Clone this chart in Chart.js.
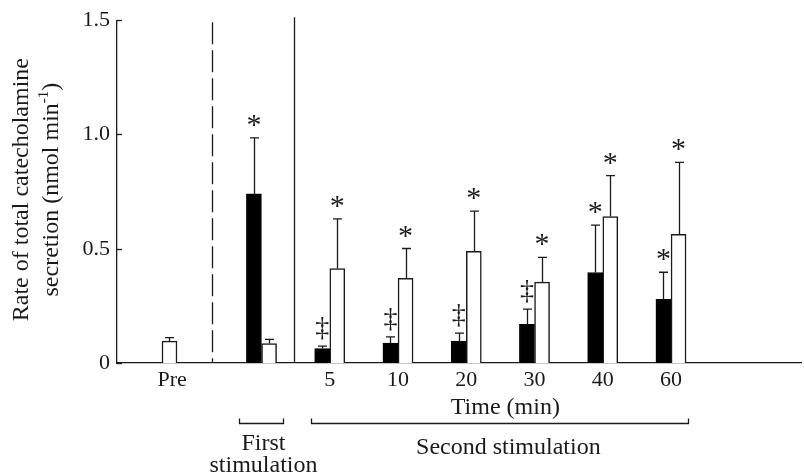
<!DOCTYPE html>
<html>
<head>
<meta charset="utf-8">
<script src="https://cdn.jsdelivr.net/npm/chart.js@4.4.1/dist/chart.umd.min.js"></script>
<style>
  body { margin: 0; background: #fff; }
  #wrap { width: 804px; height: 475px; }
</style>
</head>
<body>
<div id="wrap"><canvas id="canvas" width="804" height="475"></canvas></div>
<script>
// values (nmol min-1)
const groups = ['Pre', 'First', '5', '10', '20', '30', '40', '60'];
const tickLabels = ['Pre', '5', '10', '20', '30', '40', '60'];
const blackMean = [null, 0.74, 0.063, 0.087, 0.096, 0.169, 0.396, 0.279];
const blackErr = [null, 0.245, 0.011, 0.027, 0.035, 0.067, 0.207, 0.118];
const whiteMean = [0.096, 0.085, 0.413, 0.371, 0.489, 0.354, 0.641, 0.563];
const whiteErr = [0.015, 0.018, 0.218, 0.130, 0.176, 0.108, 0.179, 0.315];
const blackMark = ['', '*', '‡', '‡', '‡', '‡', '*', '*'];
const whiteMark = ['', '', '*', '*', '*', '*', '*', '*'];
const yTicks = [0, 0.5, 1.0, 1.5];

// layout on the x axis (group units)
const groupX = [-0.348, 1, 2, 3, 4, 5, 6, 7];
const tickX = [-0.31, 2, 3, 4, 5, 6, 7];
const half = 0.111;
const dashedX = 0.27;
const solidX = 1.48;

const serif = "'Liberation Serif', 'Times New Roman', Times, serif";
const ink = '#1a1a1a';

const blackData = [];
const whiteData = [];
groups.forEach((g, i) => {
  const off = i === 0 ? 0 : half;
  if (blackMean[i] !== null) blackData.push({ x: groupX[i] - off, y: blackMean[i], e: blackErr[i], m: blackMark[i] });
  whiteData.push({ x: groupX[i] + off, y: whiteMean[i], e: whiteErr[i], m: whiteMark[i] });
});

function centerText(ctx, txt, x, cy) {
  const m = ctx.measureText(txt);
  ctx.fillText(txt, x, cy + (m.actualBoundingBoxAscent - m.actualBoundingBoxDescent) / 2);
}

const extras = {
  id: 'extras',
  beforeDatasetsDraw(chart) {
    const ctx = chart.ctx, xs = chart.scales.x, a = chart.chartArea;
    ctx.save();
    ctx.strokeStyle = ink;
    ctx.lineWidth = 1.3;
    // dashed divider
    ctx.setLineDash([22, 6]);
    ctx.beginPath();
    const dx = Math.round(xs.getPixelForValue(dashedX)) + 0.5;
    ctx.moveTo(dx, a.top + 2);
    ctx.lineTo(dx, a.bottom);
    ctx.stroke();
    ctx.setLineDash([]);
    // solid divider
    const sx = Math.round(xs.getPixelForValue(solidX)) + 0.5;
    ctx.beginPath();
    ctx.moveTo(sx, a.top - 3);
    ctx.lineTo(sx, a.bottom);
    ctx.stroke();
    ctx.restore();
  },
  afterDatasetsDraw(chart) {
    const ctx = chart.ctx, ys = chart.scales.y;
    ctx.save();
    ctx.strokeStyle = ink;
    ctx.fillStyle = ink;
    ctx.lineWidth = 1.3;
    chart.data.datasets.forEach((ds, d) => {
      const meta = chart.getDatasetMeta(d);
      ds.data.forEach((p, i) => {
        const el = meta.data[i];
        const x = Math.round(el.x) + 0.5;
        const top = ys.getPixelForValue(p.y + p.e);
        ctx.beginPath();
        ctx.moveTo(x, el.y);
        ctx.lineTo(x, top);
        ctx.moveTo(x - 4.5, top);
        ctx.lineTo(x + 4.5, top);
        ctx.stroke();
        if (p.m) {
          ctx.textAlign = 'center';
          ctx.textBaseline = 'alphabetic';
          if (p.m === '*') {
            ctx.font = '30px ' + serif;
            centerText(ctx, '*', el.x, top - 17.5);
          } else {
            ctx.font = '28px ' + serif;
            centerText(ctx, '‡', el.x, top - 17.5);
          }
        }
      });
    });
    ctx.restore();
  },
  afterDraw(chart) {
    const ctx = chart.ctx, xs = chart.scales.x, ys = chart.scales.y, a = chart.chartArea;
    ctx.save();
    ctx.strokeStyle = ink;
    ctx.fillStyle = ink;
    ctx.lineWidth = 1.3;
    // inward ticks on y axis
    yTicks.forEach(v => {
      const y = Math.round(ys.getPixelForValue(v)) + 0.5;
      ctx.beginPath();
      ctx.moveTo(a.left, y);
      ctx.lineTo(a.left + 5, y);
      ctx.stroke();
    });

    // y title, two lines with superscript
    ctx.font = '24px ' + serif;
    ctx.textBaseline = 'middle';
    const cy = (a.top + a.bottom) / 2 - 2;
    ctx.save();
    ctx.translate(22, cy);
    ctx.rotate(-Math.PI / 2);
    ctx.textAlign = 'center';
    ctx.fillText('Rate of total catecholamine', 0, 0);
    ctx.restore();

    ctx.save();
    ctx.translate(52, cy);
    ctx.rotate(-Math.PI / 2);
    ctx.textAlign = 'left';
    const p1 = 'secretion (nmol min', sup = '-1', p3 = ')';
    ctx.font = '24px ' + serif;
    const w1 = ctx.measureText(p1).width, w3 = ctx.measureText(p3).width;
    ctx.font = '15px ' + serif;
    const w2 = ctx.measureText(sup).width;
    let x0 = -(w1 + w2 + w3) / 2;
    ctx.font = '24px ' + serif;
    ctx.fillText(p1, x0, 0);
    ctx.font = '15px ' + serif;
    ctx.fillText(sup, x0 + w1, -8);
    ctx.font = '24px ' + serif;
    ctx.fillText(p3, x0 + w1 + w2, 0);
    ctx.restore();

    // x title and stimulation brackets
    const g5 = xs.getPixelForValue(groupX[2]);
    const g60 = xs.getPixelForValue(groupX[7]);
    const g1 = xs.getPixelForValue(groupX[1]);
    ctx.textAlign = 'center';
    ctx.textBaseline = 'alphabetic';
    ctx.font = '24px ' + serif;
    ctx.fillText('Time (min)', (g5 + g60) / 2 + 5, 414);

    function bracket(x1, x2) {
      ctx.beginPath();
      ctx.moveTo(x1, 418.5);
      ctx.lineTo(x1, 423.5);
      ctx.lineTo(x2, 423.5);
      ctx.lineTo(x2, 418.5);
      ctx.stroke();
    }
    bracket(Math.round(g1 - 22) + 0.5, Math.round(g1 + 22) + 0.5);
    bracket(Math.round(g5 - 19) + 0.5, Math.round(g60 + 17) + 0.5);
    ctx.fillText('First', g1 + 2, 450);
    ctx.fillText('stimulation', g1 + 2, 472);
    ctx.fillText('Second stimulation', (g5 + g60) / 2 + 8, 454);
    ctx.restore();
  }
};

const ctx = document.getElementById('canvas').getContext('2d');
new Chart(ctx, {
  type: 'bar',
  data: {
    datasets: [{
      label: 'black',
      data: blackData,
      backgroundColor: '#000',
      borderColor: '#000',
      borderWidth: 1,
      barThickness: 15,
      grouped: false
    }, {
      label: 'white',
      data: whiteData,
      backgroundColor: '#fff',
      borderColor: ink,
      borderWidth: 1.5,
      barThickness: 15,
      grouped: false
    }]
  },
  options: {
    responsive: false,
    animation: false,
    layout: { padding: { top: 19, right: 3, left: 0, bottom: 0 } },
    plugins: { legend: { display: false }, tooltip: { enabled: false } },
    scales: {
      x: {
        type: 'linear',
        offset: false,
        min: -1.117,
        max: 8.905,
        afterBuildTicks: s => { s.ticks = tickX.map(v => ({ value: v })); },
        afterFit: s => { s.height = 112; },
        ticks: {
          autoSkip: false,
          maxRotation: 0,
          padding: 4,
          color: ink,
          font: { family: serif, size: 22 },
          callback: (v, i) => tickLabels[i]
        },
        grid: { display: false, drawTicks: false, offset: false },
        border: { color: ink, width: 1.3 }
      },
      y: {
        min: 0,
        max: 1.5,
        afterBuildTicks: s => { s.ticks = yTicks.map(v => ({ value: v })); },
        afterFit: s => { s.width = 117; },
        ticks: {
          padding: 7,
          color: ink,
          font: { family: serif, size: 22 },
          callback: v => v === 0 ? '0' : v.toFixed(1)
        },
        grid: { display: false, drawTicks: false },
        border: { color: ink, width: 1.3 }
      }
    }
  },
  plugins: [extras]
});
</script>
</body>
</html>
